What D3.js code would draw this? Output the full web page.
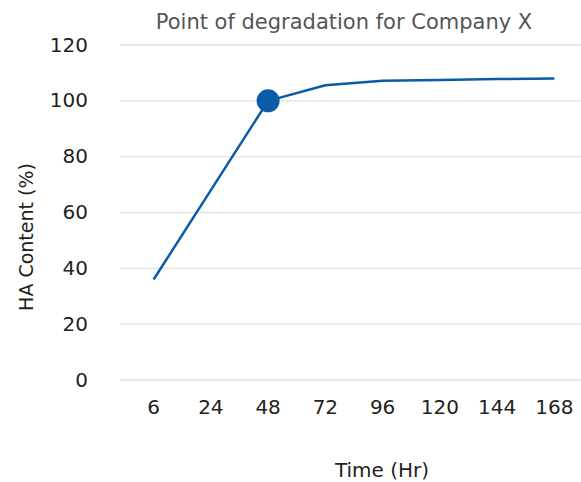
<!DOCTYPE html>
<html>
<head>
<meta charset="utf-8">
<script src="https://cdnjs.cloudflare.com/ajax/libs/d3/7.8.5/d3.min.js"></script>
<style>
  html, body { margin: 0; padding: 0; background: #fff; }
  svg { display: block; font-family: "DejaVu Sans", sans-serif; }
</style>
</head>
<body>
<svg width="581" height="482"></svg>
<script>
// data
var hours = ['6', '24', '48', '72', '96', '120', '144', '168'];
var haContent = [36, 68, 100, 105.6, 107.2, 107.5, 107.8, 108];
var yTicks = [0, 20, 40, 60, 80, 100, 120];
var markedHour = '48';

var svg = d3.select('svg');

// scales
var x = d3.scaleBand().domain(hours).range([125, 583]);
var y = d3.scaleLinear().domain([0, 120]).range([380, 45]);
var cx = function(d){ return x(d) + x.bandwidth() / 2; };

// horizontal gridlines
svg.append('g').selectAll('line').data(yTicks).enter().append('line')
  .attr('x1', 120).attr('x2', 581)
  .attr('y1', function(d){ return y(d); }).attr('y2', function(d){ return y(d); })
  .style('stroke', '#e2e2e2').style('stroke-width', 1.3);

// y tick labels
svg.append('g').selectAll('text').data(yTicks).enter().append('text')
  .attr('x', 88).attr('y', function(d){ return y(d) + 6.5; })
  .style('text-anchor', 'end').style('font-size', '20px').style('fill', '#231f20')
  .text(function(d){ return d; });

// x tick labels
svg.append('g').selectAll('text').data(hours).enter().append('text')
  .attr('x', cx).attr('y', 414)
  .style('text-anchor', 'middle').style('font-size', '20px').style('fill', '#231f20')
  .text(function(d){ return d; });

// line
var pts = hours.map(function(h, i){ return [h, haContent[i]]; });
var line = d3.line().x(function(d){ return cx(d[0]); }).y(function(d){ return y(d[1]); });
svg.append('path').datum(pts).attr('d', line)
  .style('fill', 'none').style('stroke', '#0a5ca6').style('stroke-width', 2.5).style('stroke-linejoin', 'round');

// degradation marker
var mi = hours.indexOf(markedHour);
svg.append('circle').attr('cx', cx(markedHour)).attr('cy', y(haContent[mi])).attr('r', 11.5)
  .style('fill', '#0a5ca6');

// title
svg.append('text').attr('x', 344).attr('y', 29)
  .style('text-anchor', 'middle').style('font-size', '21px').style('fill', '#555')
  .text('Point of degradation for Company X');

// axis titles
svg.append('text').attr('x', 382).attr('y', 477)
  .style('text-anchor', 'middle').style('font-size', '20px').style('fill', '#231f20')
  .text('Time (Hr)');
svg.append('text').attr('transform', 'translate(' + 32.5 + ',' + 237 + ') rotate(-90)')
  .style('text-anchor', 'middle').style('font-size', '19px').style('fill', '#231f20')
  .text('HA Content (%)');
</script>
</body>
</html>
